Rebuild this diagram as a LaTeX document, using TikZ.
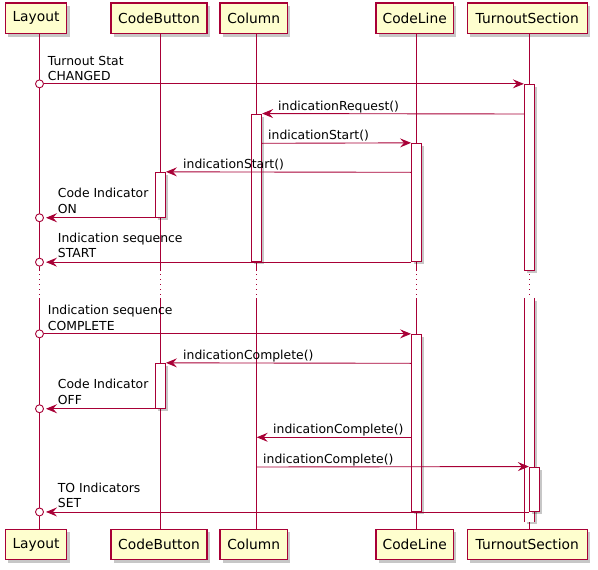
\documentclass[tikz,border=0pt]{standalone}
\usepackage{fontspec}
\setmainfont{DejaVu Sans}
\usetikzlibrary{arrows.meta,shadows,calc}
\definecolor{pborder}{HTML}{A80036}
\definecolor{pfill}{HTML}{FEFECE}
\tikzset{
  partbox/.style={draw=pborder, line width=1.3pt, fill=pfill, minimum height=30.5pt,
    inner sep=0pt, font=\fontsize{13.8}{15}\selectfont,
    drop shadow={shadow xshift=3pt, shadow yshift=-3pt, fill=black, opacity=0.22}},
  actbar/.style={draw=pborder, line width=0.9pt, fill=white, minimum width=10pt, inner sep=0pt,
    drop shadow={shadow xshift=2.5pt, shadow yshift=-2.5pt, fill=black, opacity=0.22}},
  openbar/.style={draw=none, fill=white, minimum width=10pt, inner sep=0pt,
    drop shadow={shadow xshift=2.5pt, shadow yshift=-2.5pt, fill=black, opacity=0.22}},
  lifeln/.style={draw=pborder, line width=0.9pt},
  dotln/.style={draw=pborder, line width=0.9pt, dash pattern=on 1pt off 4pt},
  msg/.style={draw=pborder, line width=0.9pt, -{Stealth[length=11pt,width=9pt,inset=4pt]}},
  endcirc/.style={draw=pborder, line width=0.9pt, fill=white},
  lbl/.style={font=\fontsize{12.4}{14}\selectfont, inner sep=0pt, anchor=base west, text=black},
}
\begin{document}
\begin{tikzpicture}[x=1pt,y=-1pt]
\useasboundingbox (0,0) rectangle (598,570);

% lifeline x positions
\coordinate (Lx) at (39.5,0);
\coordinate (CBx) at (160.5,0);
\coordinate (Cx) at (256.7,0);
\coordinate (CLx) at (416.5,0);
\coordinate (TSx) at (529.3,0);
\coordinate (dtop) at (0,271);
\coordinate (dbot) at (0,298);

% participants
\node[partbox, minimum width=61.4pt] (Lt) at (36,18.3) {Layout};
\node[partbox, minimum width=96pt] (CBt) at (159,18.3) {CodeButton};
\node[partbox, minimum width=67.3pt] (Ct) at (253.7,18.3) {Column};
\node[partbox, minimum width=77.3pt] (CLt) at (414.7,18.3) {CodeLine};
\node[partbox, minimum width=120pt] (TSt) at (527.3,18.3) {TurnoutSection};
\node[partbox, minimum width=61.4pt] (Lb) at (36,544.5) {Layout};
\node[partbox, minimum width=96pt] (CBb) at (159,544.5) {CodeButton};
\node[partbox, minimum width=67.3pt] (Cb) at (253.7,544.5) {Column};
\node[partbox, minimum width=77.3pt] (CLb) at (414.7,544.5) {CodeLine};
\node[partbox, minimum width=120pt] (TSb) at (527.3,544.5) {TurnoutSection};

% lifelines
\foreach \p/\q/\x in {Lt/Lb/Lx, CBt/CBb/CBx, Ct/Cb/Cx, CLt/CLb/CLx, TSt/TSb/TSx}{
  \draw[lifeln] (\p.south -| \x) -- (dtop -| \x);
  \draw[dotln] ($(dtop -| \x)+(0,3)$) -- (dbot -| \x);
  \draw[lifeln] (dbot -| \x) -- (\q.north -| \x);
}

% activation bars
\node[actbar, minimum height=186.4pt] (TS1) at (529.3,177.5) {};
\node[actbar, minimum height=147.7pt] (C1) at (256.7,187.85) {};
\node[actbar, minimum height=118.4pt] (CL1) at (416.5,202.5) {};
\node[actbar, minimum height=45pt] (CB1) at (160.5,194.8) {};
\node[openbar, minimum height=223.7pt] (TS2) at (529.3,409.85) {};
\draw[lifeln] (TS2.north west) -- (TS2.south west);
\draw[lifeln] (TS2.north east) -- (TS2.south east);
\node[actbar, minimum height=177.2pt] (CL2) at (416.5,422.9) {};
\node[actbar, minimum height=45pt] (CB2) at (160.5,385.8) {};
\node[actbar, minimum height=44.5pt] (TS3) at (534.3,489.25) {};

% message anchor heights
\coordinate (m2) at (0,114);
\coordinate (m3) at (0,143.3);
\coordinate (m4) at (0,172.3);
\coordinate (m8) at (0,363.3);
\coordinate (m10) at (0,437.3);
\coordinate (m11) at (0,467);

% messages
\draw[msg] ($(TS1.north west -| Lx)+(4,0)$) -- (TS1.north west);
\draw[endcirc] (TS1.north west -| Lx) circle (4);
\draw[msg] (TS1.west |- m2) -- (C1.north east);
\draw[msg] (C1.east |- m3) -- (CL1.north west);
\draw[msg] (CL1.west |- m4) -- (CB1.north east);
\draw[msg] (CB1.south west) -- ($(CB1.south west -| Lx)+(6.5,0)$);
\draw[endcirc] (CB1.south west -| Lx) circle (4);
\draw[msg] (CL1.south west) -- ($(CL1.south west -| Lx)+(6.5,0)$);
\draw[endcirc] (CL1.south west -| Lx) circle (4);
\draw[msg] ($(CL2.north west -| Lx)+(4,0)$) -- (CL2.north west);
\draw[endcirc] (CL2.north west -| Lx) circle (4);
\draw[msg] (CL2.west |- m8) -- (CB2.north east);
\draw[msg] (CB2.south west) -- ($(CB2.south west -| Lx)+(6.5,0)$);
\draw[endcirc] (CB2.south west -| Lx) circle (4);
\draw[msg] (CL2.west |- m10) -- (Cx |- m10);
\draw[msg] (Cx |- m11) -- (TS3.north west);
\draw[msg] (TS3.south west) -- ($(TS3.south west -| Lx)+(6.5,0)$);
\draw[endcirc] (TS3.south west -| Lx) circle (4);

% labels
\node[lbl] (l1a) at (47.7,65.3) {Turnout Stat};
\node[lbl] (l1b) at (47.7,80.7) {CHANGED};
\node[lbl] (l2) at (278,110) {indicationRequest()};
\node[lbl] (l3) at (268,139.3) {indicationStart()};
\node[lbl] (l4) at (183,168.3) {indicationStart()};
\node[lbl] (l5a) at (57.7,197.9) {Code Indicator};
\node[lbl] (l5b) at (57.7,213.3) {ON};
\node[lbl] (l6a) at (57.7,242.3) {Indication sequence};
\node[lbl] (l6b) at (57.7,257.7) {START};
\node[lbl] (l7a) at (47.7,314.9) {Indication sequence};
\node[lbl] (l7b) at (47.7,330.3) {COMPLETE};
\node[lbl] (l8) at (183,359.3) {indicationComplete()};
\node[lbl] (l9a) at (57.7,388.9) {Code Indicator};
\node[lbl] (l9b) at (57.7,404.3) {OFF};
\node[lbl] (l10) at (273,433.3) {indicationComplete()};
\node[lbl] (l11) at (263,463) {indicationComplete()};
\node[lbl] (l12a) at (57.7,492.1) {TO Indicators};
\node[lbl] (l12b) at (57.7,507.5) {SET};
\end{tikzpicture}
\end{document}
